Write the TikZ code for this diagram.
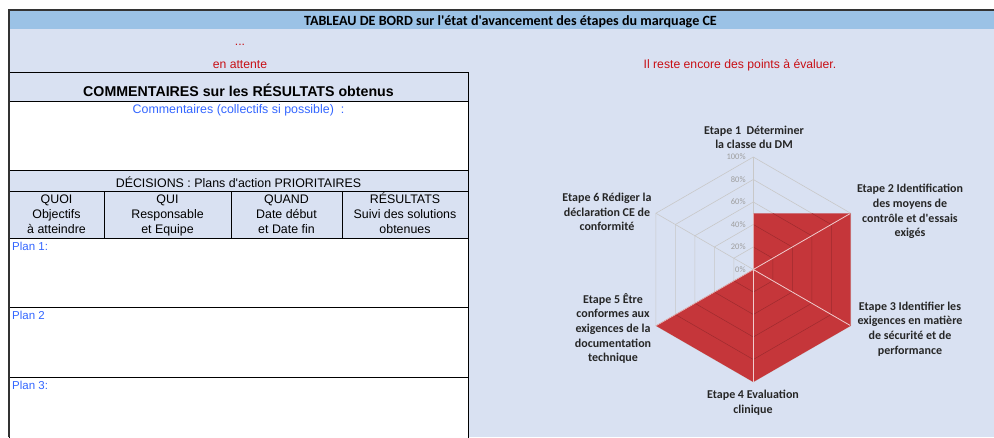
\documentclass[tikz,border=0pt]{standalone}
\usepackage{fontspec}
\setmainfont{Liberation Sans}[Ligatures=TeXOff]
\newfontfamily\calibri{Carlito}[Ligatures=TeXOff]

\definecolor{lavender}{RGB}{217,225,242}
\definecolor{titleblue}{RGB}{155,194,230}
\definecolor{cellred}{RGB}{200,16,22}
\definecolor{cellblue}{RGB}{51,102,255}
\definecolor{radarred}{RGB}{197,54,58}
\definecolor{gridgray}{RGB}{200,200,200}

\tikzset{
  cell/.style={draw=black, line width=0.8pt},
  celltext/.style={font=\fontsize{12.4}{15}\selectfont, inner sep=0pt, align=center},
  redtext/.style={font=\fontsize{12.2}{14}\selectfont, text=cellred, inner sep=0pt, anchor=base},
  plantext/.style={font=\fontsize{11.5}{14}\selectfont, text=cellblue, anchor=base west, inner sep=0pt},
  steplabel/.style={font=\calibri\bfseries\fontsize{12}{14.6}\selectfont, text=black!85, align=center, inner sep=0pt},
  gridline/.style={draw=gridgray, line width=0.6pt},
  pctlabel/.style={font=\calibri\fontsize{8.5}{10}\selectfont, text=black!38, anchor=east, inner sep=0pt},
}

\begin{document}
\begin{tikzpicture}[x=1pt, y=-1pt]
\useasboundingbox (0,0) rectangle (994,437);

% fond et bandeau
\fill[lavender] (9,11) rectangle (994,437);
\fill[titleblue] (9,11) rectangle (994,29);
\draw[line width=2pt, black!80] (8.5,437) -- (8.5,10) -- (994,10);
\node[font=\calibri\bfseries\fontsize{14.1}{16}\selectfont, inner sep=0pt, anchor=base] (title) at (510.5,25.5) {TABLEAU DE BORD sur l'état d'avancement des étapes du marquage CE};

\node[redtext] (dots) at (240,45.5) {...};
\node[redtext] (wait) at (240,68) {en attente};
\node[redtext] (remain) at (740,68) {Il reste encore des points à évaluer.};

% tableau
\filldraw[cell, fill=lavender] (9,72) rectangle (468,101);
\filldraw[cell, fill=white] (9,101) rectangle (468,170);
\filldraw[cell, fill=lavender] (9,170) rectangle (468,191);
\filldraw[cell, fill=lavender] (9,191) rectangle (468,238);
\foreach \x in {104,231,342} \draw[cell] (\x,191) -- (\x,238);
\filldraw[cell, fill=white] (9,238) rectangle (468,307);
\filldraw[cell, fill=white] (9,307) rectangle (468,377);
\filldraw[cell, fill=white] (9,377) rectangle (468,445);
\draw[line width=2pt, black!80] (8.5,437) -- (8.5,70);

\node[font=\bfseries\fontsize{14.2}{16}\selectfont, inner sep=0pt, anchor=base] (comhead) at (238.5,96) {COMMENTAIRES sur les RÉSULTATS obtenus};
\node[celltext, text=cellblue, anchor=base] (comtext) at (238.5,113) {Commentaires (collectifs si possible)\ \ :};
\node[celltext, anchor=base] (dechead) at (238.5,187) {DÉCISIONS : Plans d'action PRIORITAIRES};

\node[celltext] (quoi) at (56.5,215) {\strut QUOI\\\strut Objectifs\\\strut à atteindre};
\node[celltext] (qui) at (167.5,215) {\strut QUI\\\strut Responsable\\\strut et Equipe};
\node[celltext] (quand) at (286.5,215) {\strut QUAND\\\strut Date début\\\strut et Date fin};
\node[celltext] (result) at (405,215) {\strut RÉSULTATS\\\strut Suivi des solutions\\\strut obtenues};

\node[plantext] (plan1) at (12,250.5) {Plan 1:};
\node[plantext] (plan2) at (12,319.5) {Plan 2};
\node[plantext] (plan3) at (12,389) {Plan 3:};

% radar
\begin{scope}[shift={(753.3,269.5)}, yscale=-1]
\foreach \r in {22.5,45,67.5,90,112.5}
  \draw[gridline] (90:\r) -- (30:\r) -- (-30:\r) -- (-90:\r) -- (-150:\r) -- (150:\r) -- cycle;
\foreach \a in {90,30,-30,-90,-150,150}
  \draw[gridline] (0,0) -- (\a:112.5);

\fill[radarred] (90:56.25) -- (30:112.5) -- (-30:112.5) -- (-90:112.5) -- (-150:112.5) -- (0,0) -- cycle;
\begin{scope}
\clip (90:56.25) -- (30:112.5) -- (-30:112.5) -- (-90:112.5) -- (-150:112.5) -- (0,0) -- cycle;
\foreach \r in {22.5,45,67.5,90}
  \draw[radarred!80!black, line width=0.5pt] (90:\r) -- (30:\r) -- (-30:\r) -- (-90:\r) -- (-150:\r) -- (150:\r) -- cycle;
\foreach \a in {90,30,-30,-90,-150}
  \draw[white!75!radarred, line width=0.8pt] (0,0) -- (\a:112.5);
\end{scope}

\foreach \p [count=\k from 0] in {0,20,40,60,80,100}
  \node[pctlabel] (pct\p) at (-7.5,\k*22.5) {\p\%};
\end{scope}

\node[steplabel] (etape1) at (754,137.5) {Etape 1\ \ Déterminer\\la classe du DM};
\node[steplabel] (etape2) at (910,211.5) {Etape 2 Identification\\des moyens de\\contrôle et d'essais\\exigés};
\node[steplabel] (etape3) at (910,329) {Etape 3 Identifier les\\exigences en matière\\de sécurité et de\\performance};
\node[steplabel] (etape4) at (753,403) {Etape 4 Evaluation\\clinique};
\node[steplabel] (etape5) at (613,328.5) {Etape 5 Être\\conformes aux\\exigences de la\\documentation\\technique};
\node[steplabel] (etape6) at (607,212) {Etape 6 Rédiger la\\déclaration CE de\\conformité};

\end{tikzpicture}
\end{document}
